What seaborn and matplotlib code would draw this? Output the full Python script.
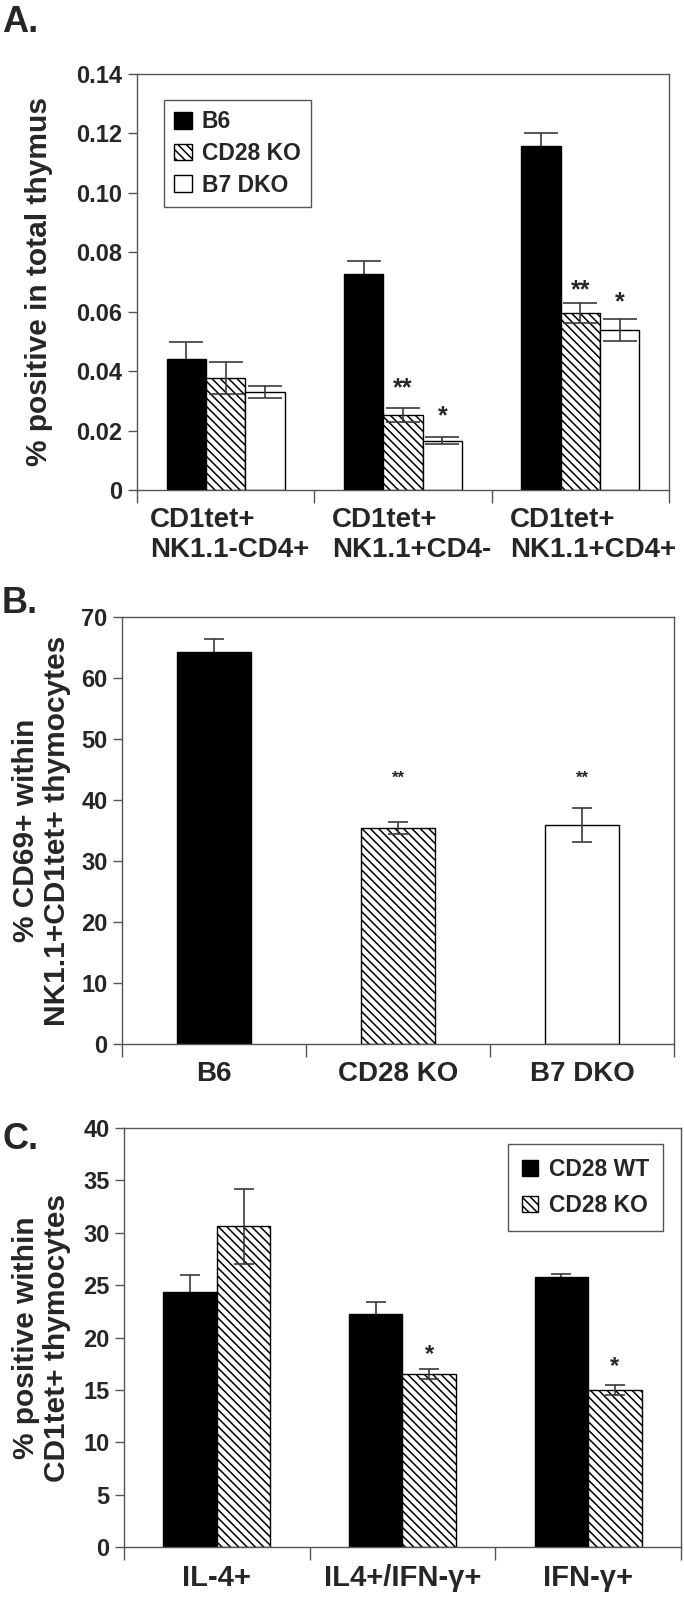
import matplotlib
matplotlib.use("Agg")
import matplotlib.pyplot as plt
import matplotlib.transforms as mtransforms
import seaborn as sns
import pandas as pd
from matplotlib.ticker import FixedLocator

# ---- panel A: % positive in total thymus
a_groups = ["CD1tet+\nNK1.1-CD4+", "CD1tet+\nNK1.1+CD4-", "CD1tet+\nNK1.1+CD4+"]
a_strains = ["B6", "CD28 KO", "B7 DKO"]
a_b6 = [0.0441, 0.0727, 0.1158]
a_b6_err = [0.0056, 0.0045, 0.0042]
a_cd28 = [0.0376, 0.0252, 0.0595]
a_cd28_err = [0.0054, 0.0024, 0.0033]
a_b7 = [0.0331, 0.0166, 0.0538]
a_b7_err = [0.0020, 0.0013, 0.0036]
a_cd28_star = ["", "**", "**"]
a_cd28_star_y = [0, 0.0365, 0.0696]
a_b7_star = ["", "*", "*"]
a_b7_star_y = [0, 0.0272, 0.0656]
a_yticks = [0, 0.02, 0.04, 0.06, 0.08, 0.10, 0.12, 0.14]
a_ylabels = ["0", "0.02", "0.04", "0.06", "0.08", "0.10", "0.12", "0.14"]

# ---- panel B: % CD69+ within NK1.1+CD1tet+ thymocytes
b_groups = ["B6", "CD28 KO", "B7 DKO"]
b_vals = [64.3, 35.4, 35.9]
b_err = [2.1, 1.0, 2.8]
b_star = ["", "**", "**"]
b_star_y = [0, 44.3, 44.3]
b_yticks = [0, 10, 20, 30, 40, 50, 60, 70]
b_ylabels = ["0", "10", "20", "30", "40", "50", "60", "70"]

# ---- panel C: % positive within CD1tet+ thymocytes
c_groups = ["IL-4+", "IL4+/IFN-γ+", "IFN-γ+"]
c_strains = ["CD28 WT", "CD28 KO"]
c_wt = [24.3, 22.2, 25.8]
c_wt_err = [1.7, 1.2, 0.3]
c_ko = [30.6, 16.5, 15.0]
c_ko_err = [3.6, 0.5, 0.5]
c_ko_star = ["", "*", "*"]
c_ko_star_y = [0, 19.0, 17.9]
c_yticks = [0, 5, 10, 15, 20, 25, 30, 35, 40]
c_ylabels = ["0", "5", "10", "15", "20", "25", "30", "35", "40"]

HATCH = "\\\\\\\\"
GRAY = "#555555"
ERR = "#3a3a3a"


def style_axes(ax, yticks, ylabels, xsize):
    ax.set_xlim(-0.5, 2.5)
    ax.set_ylim(yticks[0], yticks[-1])
    ax.set_yticks(yticks, ylabels)
    ax.xaxis.set_minor_locator(FixedLocator([-0.5, 0.5, 1.5, 2.5]))
    ax.tick_params(axis="x", which="major", length=0, pad=12, labelsize=xsize)
    ax.tick_params(axis="x", which="minor", length=9, width=1, color=GRAY,
                   direction="out", bottom=True)
    ax.tick_params(axis="y", length=6.5, width=1, color=GRAY, pad=4,
                   labelsize=17, left=True, direction="out")
    for s in ax.spines.values():
        s.set_color(GRAY)
        s.set_linewidth(1)
    ax.set_xlabel("")
    for lbl in ax.get_xticklabels():
        lbl.set_multialignment("left")


def add_errors(ax, patches, err, capsize, behind=False):
    # behind=True hides the lower half inside a solid black bar
    xs = [p.get_x() + p.get_width() / 2 for p in patches]
    ys = [p.get_height() for p in patches]
    ax.errorbar(xs, ys, yerr=err, fmt="none", ecolor=ERR, elinewidth=1.2,
                capsize=capsize, capthick=1.2, zorder=0.5 if behind else 3)


def add_stars(ax, patches, marks, ys, size):
    for p, m, y in zip(patches, marks, ys):
        if m:
            ax.annotate(m, xy=(p.get_x() + p.get_width() / 2, y),
                        xytext=(0, -0.57 * size), textcoords="offset points",
                        ha="center", va="baseline", fontsize=size,
                        fontweight="bold")


if __name__ == "__main__":
    sns.set_theme(style="white")
    plt.rcParams["font.family"] = ["Liberation Sans", "DejaVu Sans"]
    plt.rcParams["font.weight"] = "bold"
    plt.rcParams["axes.labelweight"] = "bold"
    plt.rcParams["hatch.linewidth"] = 1.1
    plt.rcParams["hatch.color"] = "black"

    fig = plt.figure(figsize=(6.84, 15.98), dpi=100)
    ax_a = fig.add_axes([0.2003, 0.6934, 0.7777, 0.2603])
    ax_b = fig.add_axes([0.1784, 0.3467, 0.8070, 0.2672])
    ax_c = fig.add_axes([0.1813, 0.0319, 0.8143, 0.2622])

    # panel A
    df_a = pd.DataFrame({
        "group": a_groups * 3,
        "strain": [s for s in a_strains for _ in a_groups],
        "value": a_b6 + a_cd28 + a_b7,
    })
    sns.barplot(ax=ax_a, data=df_a, x="group", y="value", hue="strain",
                order=a_groups, hue_order=a_strains,
                palette=["black", "white", "white"], width=0.665, gap=0,
                edgecolor="black", linewidth=1, errorbar=None, legend=False,
                saturation=1)
    for p in ax_a.containers[1]:
        p.set_hatch(HATCH)
    add_errors(ax_a, ax_a.containers[0], a_b6_err, 12, behind=True)
    add_errors(ax_a, ax_a.containers[1], a_cd28_err, 12)
    add_errors(ax_a, ax_a.containers[2], a_b7_err, 12)
    add_stars(ax_a, ax_a.containers[1], a_cd28_star, a_cd28_star_y, 18)
    add_stars(ax_a, ax_a.containers[2], a_b7_star, a_b7_star_y, 18)
    style_axes(ax_a, a_yticks, a_ylabels, 20)
    # the category blocks sit a little right of centre in the original
    for lbl, dx in zip(ax_a.get_xticklabels(), [4, 9, 13]):
        lbl.set_transform(lbl.get_transform() + mtransforms.ScaledTranslation(
            dx / 100, 0, fig.dpi_scale_trans))
    ax_a.set_ylabel("% positive in total thymus", fontsize=21.5, va="center")
    ax_a.yaxis.set_label_coords(-0.184, 0.5)
    ax_a.legend(list(ax_a.containers), a_strains, loc="upper left",
                bbox_to_anchor=(0.051, 0.9375), borderaxespad=0,
                fancybox=False, edgecolor=GRAY, framealpha=1, fontsize=16.5,
                handlelength=0.75, handleheight=0.75, handletextpad=0.45,
                labelspacing=0.38, borderpad=0.45)
    ax_a.get_legend().get_frame().set_linewidth(1)

    # panel B
    df_b = pd.DataFrame({"group": b_groups, "value": b_vals})
    sns.barplot(ax=ax_b, data=df_b, x="group", y="value", hue="group",
                order=b_groups, hue_order=b_groups,
                palette=["black", "white", "white"], width=0.40,
                edgecolor="black", linewidth=1, errorbar=None, legend=False,
                saturation=1)
    b_patches = list(ax_b.patches)
    b_patches[1].set_hatch(HATCH)
    add_errors(ax_b, b_patches[:1], b_err[:1], 7, behind=True)
    add_errors(ax_b, b_patches[1:], b_err[1:], 7)
    add_stars(ax_b, b_patches, b_star, b_star_y, 12)
    style_axes(ax_b, b_yticks, b_ylabels, 20)
    ax_b.set_ylabel("% CD69+ within\nNK1.1+CD1tet+ thymocytes", fontsize=21.5,
                    va="center", linespacing=1.12)
    ax_b.yaxis.set_label_coords(-0.146, 0.5)

    # panel C
    df_c = pd.DataFrame({
        "group": c_groups * 2,
        "strain": [s for s in c_strains for _ in c_groups],
        "value": c_wt + c_ko,
    })
    sns.barplot(ax=ax_c, data=df_c, x="group", y="value", hue="strain",
                order=c_groups, hue_order=c_strains,
                palette=["black", "white"], width=0.577, gap=0,
                edgecolor="black", linewidth=1, errorbar=None, legend=False,
                saturation=1)
    for p in ax_c.containers[1]:
        p.set_hatch(HATCH)
    add_errors(ax_c, ax_c.containers[0], c_wt_err, 7, behind=True)
    add_errors(ax_c, ax_c.containers[1], c_ko_err, 7)
    add_stars(ax_c, ax_c.containers[1], c_ko_star, c_ko_star_y, 17)
    style_axes(ax_c, c_yticks, c_ylabels, 21)
    ax_c.set_ylabel("% positive within\nCD1tet+ thymocytes", fontsize=21.5,
                    va="center", linespacing=1.12)
    ax_c.yaxis.set_label_coords(-0.148, 0.5)
    ax_c.legend(list(ax_c.containers), c_strains, loc="upper right",
                bbox_to_anchor=(0.968, 0.962), borderaxespad=0,
                fancybox=False, edgecolor=GRAY, framealpha=1, fontsize=16.5,
                handlelength=0.7, handleheight=0.7, handletextpad=0.5,
                labelspacing=0.6, borderpad=0.6)
    ax_c.get_legend().get_frame().set_linewidth(1)

    # panel letters
    fig.text(0.003, 1 - 5 / 1598, "A.", fontsize=26, fontweight="bold", va="top")
    fig.text(0.003, 1 - 586 / 1598, "B.", fontsize=26, fontweight="bold", va="top")
    fig.text(0.003, 1 - 1122 / 1598, "C.", fontsize=26, fontweight="bold", va="top")

    plt.savefig("out.png", dpi=100)
